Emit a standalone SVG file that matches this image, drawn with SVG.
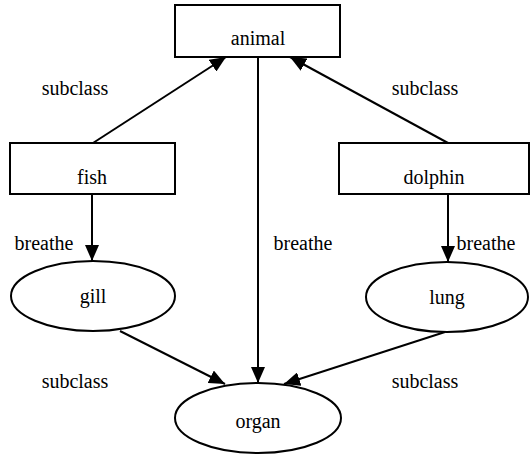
<svg xmlns="http://www.w3.org/2000/svg" width="530" height="456" viewBox="0 0 530 456">
<style>
.n{fill:#fff;stroke:#000;stroke-width:2}
.e{stroke:#000;stroke-width:2;fill:none;marker-end:url(#ah)}
</style>
<defs>
<marker id="ah" markerUnits="userSpaceOnUse" markerWidth="16" markerHeight="14" refX="16" refY="7" orient="auto">
<path d="M0,0 L16,7 L0,14 Z" fill="#000"/>
</marker>
</defs>
<rect width="530" height="456" fill="#fff"/>
<g font-family="Liberation Serif, DejaVu Serif, serif" font-size="20" text-anchor="middle" fill="#000">
<g id="connectors">
<line class="e" x1="93" y1="143" x2="226" y2="57"/>
<line class="e" x1="448" y1="143" x2="290" y2="57"/>
<line class="e" x1="258" y1="57" x2="258" y2="383"/>
<line class="e" x1="92" y1="194" x2="92" y2="261"/>
<line class="e" x1="448" y1="194" x2="448" y2="262"/>
<line class="e" x1="120" y1="331" x2="225" y2="384"/>
<line class="e" x1="445" y1="332" x2="284" y2="384"/>
<text x="75" y="95">subclass</text>
<text x="425" y="95">subclass</text>
<text x="44" y="250">breathe</text>
<text x="303" y="250">breathe</text>
<text x="486" y="250">breathe</text>
<text x="75" y="388">subclass</text>
<text x="425" y="388">subclass</text>
</g>
<g id="animal"><rect class="n" x="175" y="5" width="165" height="52"/><text x="258" y="45">animal</text></g>
<g id="fish"><rect class="n" x="10" y="143" width="165" height="51"/><text x="92" y="184">fish</text></g>
<g id="dolphin"><rect class="n" x="339" y="143" width="190" height="51"/><text x="434" y="184">dolphin</text></g>
<g id="gill"><ellipse class="n" cx="93" cy="296" rx="82" ry="35"/><text x="93" y="303">gill</text></g>
<g id="lung"><ellipse class="n" cx="447" cy="297" rx="81" ry="35"/><text x="447" y="304">lung</text></g>
<g id="organ"><ellipse class="n" cx="258" cy="418" rx="83" ry="35"/><text x="258" y="428">organ</text></g>
</g>
</svg>
